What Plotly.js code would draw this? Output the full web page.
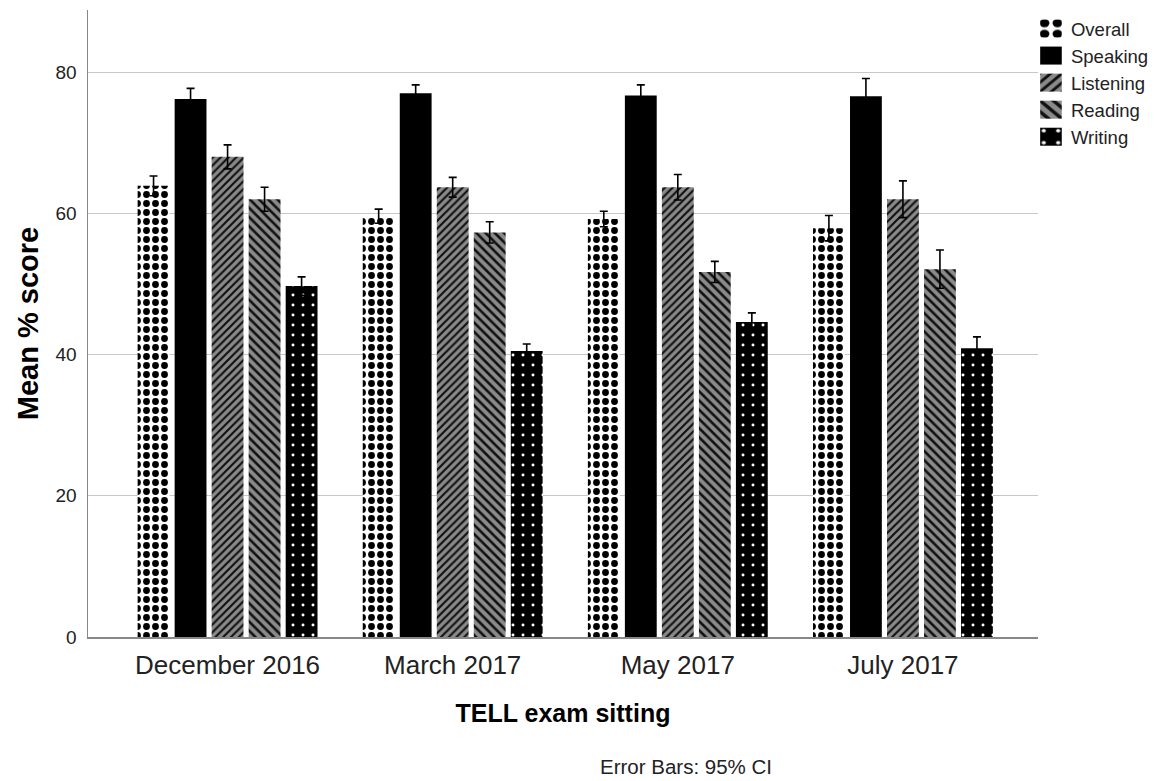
<!DOCTYPE html>
<html>
<head>
<meta charset="utf-8">
<script src="https://cdn.plot.ly/plotly-3.0.1.min.js"></script>
<style>html,body{margin:0;padding:0;background:#fff;}#chart{width:1164px;height:781px;}</style>
</head>
<body>
<div id="chart"></div>
<script>
var sittings = ["December 2016", "March 2017", "May 2017", "July 2017"];
var overall = [63.9, 59.6, 59.2, 57.9];
var overallErr = [1.4, 1.0, 1.1, 1.8];
var speaking = [76.2, 77.0, 76.7, 76.6];
var speakingErr = [1.5, 1.2, 1.5, 2.5];
var listening = [68.0, 63.7, 63.7, 62.0];
var listeningErr = [1.7, 1.4, 1.8, 2.6];
var reading = [62.0, 57.3, 51.7, 52.1];
var readingErr = [1.7, 1.5, 1.5, 2.7];
var writing = [49.7, 40.5, 44.6, 40.9];
var writingErr = [1.3, 1.0, 1.3, 1.6];

var FONT = "Liberation Sans, Arial, sans-serif";

function errb(arr) {
  return {type: "data", array: arr, visible: true, color: "#000", thickness: 1.6, width: 4};
}

var traces = [
  {name: "Overall", x: sittings, y: overall, error_y: errb(overallErr), type: "bar",
   marker: {color: "#ffffff", line: {width: 0},
            pattern: {shape: ".", fgcolor: "#000", bgcolor: "#fff", size: 9, solidity: 0.45, fillmode: "replace"}}},
  {name: "Speaking", x: sittings, y: speaking, error_y: errb(speakingErr), type: "bar",
   marker: {color: "#000000", line: {width: 0}}},
  {name: "Listening", x: sittings, y: listening, error_y: errb(listeningErr), type: "bar",
   marker: {color: "#8a8a8a", line: {width: 0},
            pattern: {shape: "/", fgcolor: "#111", bgcolor: "#8a8a8a", size: 5.5, solidity: 0.4, fillmode: "replace"}}},
  {name: "Reading", x: sittings, y: reading, error_y: errb(readingErr), type: "bar",
   marker: {color: "#8a8a8a", line: {width: 0},
            pattern: {shape: "\\", fgcolor: "#111", bgcolor: "#8a8a8a", size: 6.5, solidity: 0.4, fillmode: "replace"}}},
  {name: "Writing", x: sittings, y: writing, error_y: errb(writingErr), type: "bar",
   marker: {color: "#000000", line: {width: 0},
            pattern: {shape: ".", fgcolor: "#fff", bgcolor: "#000", size: 10, solidity: 0.07, fillmode: "replace"}}}
];

var layout = {
  width: 1164, height: 781,
  paper_bgcolor: "#fff", plot_bgcolor: "#fff",
  margin: {l: 88, r: 126, t: 10, b: 144},
  barmode: "group",
  bargap: 0.178,
  bargroupgap: 0.14,
  font: {family: FONT, color: "#222"},
  showlegend: true,
  legend: {x: 0.9926, xanchor: "left", y: 1.0, yanchor: "top", font: {family: FONT, size: 18.5, color: "#222"},
           bgcolor: "rgba(0,0,0,0)", traceorder: "normal"},
  xaxis: {
    range: [-0.62, 3.6],
    showline: true, linecolor: "#888", linewidth: 1.5,
    showgrid: false, ticks: "", zeroline: false,
    tickfont: {family: FONT, size: 26, color: "#222"},
    ticklabelstandoff: 4,
    title: {text: "<b>TELL exam sitting</b>", font: {family: FONT, size: 25, color: "#000"}, standoff: 26}
  },
  yaxis: {
    range: [0, 88.8],
    tickvals: [0, 20, 40, 60, 80],
    showline: true, linecolor: "#888", linewidth: 1.5,
    showgrid: true, gridcolor: "#c8c8c8", gridwidth: 1,
    zeroline: false, ticks: "",
    tickfont: {family: FONT, size: 19, color: "#222"},
    ticklabelstandoff: 6,
    title: {text: "<b>Mean % score</b>", font: {family: FONT, size: 29, color: "#000"}, standoff: 8}
  },
  annotations: [
    {text: "Error Bars: 95% CI", xref: "paper", yref: "paper", x: 0.629, y: -0.206,
     xanchor: "center", yanchor: "middle", showarrow: false,
     font: {family: FONT, size: 20.5, color: "#222"}}
  ]
};

Plotly.newPlot("chart", traces, layout, {displayModeBar: false, staticPlot: true}).then(function (gd) {
  var pts = gd.querySelectorAll(".legend .legendpoints path");
  pts.forEach(function (p) {
    var t = p.getAttribute("transform") || "";
    p.setAttribute("transform", t + " scale(1.8,1.5)");
  });
});
</script>
</body>
</html>
